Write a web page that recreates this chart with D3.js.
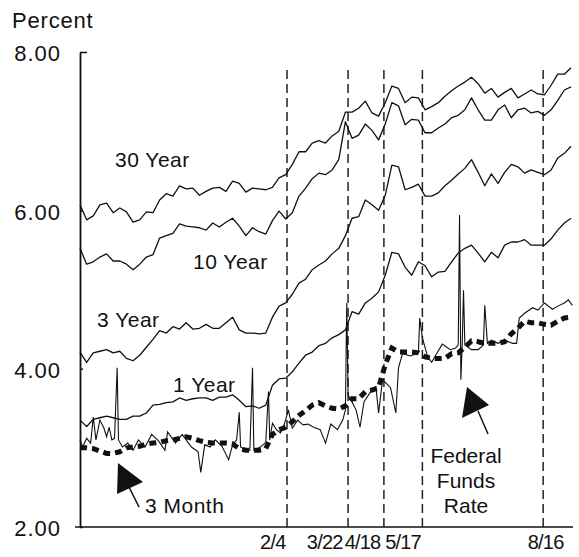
<!DOCTYPE html>
<html>
<head>
<meta charset="utf-8">
<script src="https://cdn.jsdelivr.net/npm/d3@7"></script>
<style>
  body { margin: 0; background: #fff; }
  svg text { font-family: "Liberation Sans", Arial, Helvetica, sans-serif; fill: #111; }
</style>
</head>
<body>
<div id="chart"></div>
<script>
// Treasury yields, Sept 1993 - Sept 1994, one reading every 5 days
const startDate = new Date(1993, 8, 1);
const stepDays = 5;

const year30 = [
  6.07, 5.88, 5.93, 6.07, 6.09, 5.97, 6.03, 5.98, 5.85, 5.88,
  5.98, 5.97, 6.13, 6.21, 6.18, 6.31, 6.27, 6.28, 6.19, 6.24,
  6.28, 6.29, 6.24, 6.37, 6.34, 6.23, 6.28, 6.27, 6.26, 6.29,
  6.41, 6.45, 6.58, 6.74, 6.74, 6.85, 6.88, 6.85, 6.94, 7.00,
  7.24, 7.24, 7.29, 7.38, 7.23, 7.19, 7.36, 7.57, 7.54, 7.36,
  7.43, 7.42, 7.27, 7.31, 7.36, 7.44, 7.51, 7.57, 7.62, 7.68,
  7.60, 7.48, 7.54, 7.43, 7.49, 7.54, 7.42, 7.47, 7.52, 7.47,
  7.46, 7.58, 7.72, 7.72, 7.80
];
const year10 = [
  5.52, 5.32, 5.35, 5.41, 5.45, 5.36, 5.36, 5.32, 5.25, 5.32,
  5.41, 5.44, 5.65, 5.68, 5.71, 5.83, 5.80, 5.79, 5.78, 5.75,
  5.84, 5.79, 5.85, 5.90, 5.80, 5.68, 5.78, 5.73, 5.70, 5.87,
  5.99, 5.89, 5.97, 6.18, 6.28, 6.40, 6.47, 6.45, 6.51, 6.64,
  7.12, 6.91, 6.95, 7.09, 7.01, 6.89, 7.09, 7.36, 7.32, 7.08,
  7.15, 7.14, 6.98, 6.98, 7.04, 7.09, 7.17, 7.20, 7.27, 7.42,
  7.27, 7.14, 7.14, 7.27, 7.33, 7.17, 7.27, 7.29, 7.23, 7.25,
  7.20, 7.27, 7.39, 7.52, 7.56
];
const year3 = [
  4.21, 4.08, 4.20, 4.22, 4.24, 4.20, 4.22, 4.13, 4.10, 4.17,
  4.27, 4.37, 4.48, 4.45, 4.53, 4.50, 4.58, 4.50, 4.51, 4.56,
  4.51, 4.51, 4.58, 4.65, 4.49, 4.45, 4.45, 4.44, 4.45, 4.65,
  4.79, 4.83, 4.94, 5.08, 5.13, 5.25, 5.31, 5.36, 5.45, 5.52,
  5.68, 5.90, 5.92, 6.13, 6.07, 6.00, 6.19, 6.57, 6.55, 6.26,
  6.29, 6.33, 6.18, 6.18, 6.22, 6.31, 6.38, 6.46, 6.53, 6.64,
  6.48, 6.31, 6.46, 6.34, 6.48, 6.58, 6.55, 6.47, 6.51, 6.48,
  6.45, 6.51, 6.66, 6.72, 6.81
];
const year1 = [
  3.35, 3.27, 3.36, 3.38, 3.40, 3.38, 3.36, 3.36, 3.40, 3.40,
  3.44, 3.54, 3.55, 3.57, 3.58, 3.63, 3.60, 3.62, 3.63, 3.63,
  3.60, 3.64, 3.64, 3.67, 3.60, 3.52, 3.53, 3.50, 3.54, 3.79,
  3.87, 3.88, 3.96, 4.07, 4.17, 4.21, 4.29, 4.32, 4.39, 4.43,
  4.49, 4.72, 4.69, 4.83, 4.89, 4.97, 5.18, 5.47, 5.45, 5.28,
  5.18, 5.35, 5.30, 5.16, 5.22, 5.23, 5.35, 5.46, 5.52, 5.56,
  5.46, 5.35, 5.47, 5.40, 5.56, 5.60, 5.60, 5.63, 5.56, 5.56,
  5.56, 5.64, 5.75, 5.84, 5.90
];
const month3 = [
  3.00, 3.00, 2.99, 2.96, 2.93, 2.93, 2.95, 3.00, 3.01, 3.02,
  3.05, 3.06, 3.07, 3.09, 3.10, 3.12, 3.14, 3.12, 3.09, 3.07,
  3.06, 3.06, 3.06, 3.05, 2.99, 2.97, 2.97, 2.97, 2.99, 3.17,
  3.23, 3.26, 3.33, 3.41, 3.47, 3.54, 3.57, 3.53, 3.50, 3.49,
  3.53, 3.62, 3.62, 3.71, 3.73, 3.76, 4.05, 4.26, 4.21, 4.21,
  4.21, 4.20, 4.15, 4.13, 4.13, 4.13, 4.19, 4.20, 4.27, 4.35,
  4.34, 4.32, 4.32, 4.32, 4.34, 4.44, 4.51, 4.60, 4.58, 4.58,
  4.56, 4.55, 4.60, 4.64, 4.65
];

// Federal funds rate: irregular days (from start date) so the spikes stay sharp
const fedDays = [
  0, 2, 5, 8, 10, 12, 15, 18, 20, 22,
  24, 26, 28, 29, 32, 36, 40, 44, 49, 54,
  59, 64, 66, 72, 77, 80, 84, 89, 91, 94,
  98, 102, 107, 112, 115, 118, 120, 121, 125, 128,
  130, 131, 136, 140, 142, 143, 145, 148, 151, 154,
  157, 160, 164, 168, 172, 176, 181, 185, 189, 194,
  198, 200, 201, 202, 205, 208, 211, 214, 219, 223,
  225, 228, 231, 234, 238, 240, 243, 249, 254, 255,
  256, 258, 262, 265, 268, 273, 279, 283, 285, 286,
  287, 288, 289, 290, 295, 300, 304, 305, 307, 310,
  315, 320, 326, 329, 331, 335, 341, 345, 350, 356,
  360, 365, 368, 371
];
const fedRate = [
  3.10, 3.01, 3.12, 3.06, 3.39, 3.10, 3.35, 3.25, 3.14, 3.26,
  3.10, 3.12, 4.01, 3.10, 3.01, 3.06, 2.97, 3.10, 3.01, 3.17,
  3.09, 2.97, 3.20, 3.06, 3.17, 3.10, 3.01, 2.95, 2.69, 3.04,
  3.01, 3.10, 3.02, 2.85, 3.04, 3.10, 3.45, 3.01, 2.97, 2.97,
  4.01, 2.97, 3.01, 3.07, 3.71, 3.10, 3.31, 3.23, 3.19, 3.30,
  3.48, 3.25, 3.35, 3.29, 3.30, 3.26, 3.23, 3.06, 3.30, 3.23,
  3.35, 3.48, 4.83, 3.67, 3.58, 3.48, 3.26, 3.58, 3.71, 3.77,
  3.44, 3.86, 3.81, 3.76, 3.44, 4.01, 4.19, 4.16, 4.19, 4.20,
  4.64, 4.39, 4.15, 4.08, 4.17, 4.31, 4.24, 4.26, 4.30, 5.94,
  3.86, 4.30, 4.99, 4.30, 4.24, 4.24, 4.30, 4.80, 4.32, 4.36,
  4.32, 4.36, 4.32, 4.32, 4.64, 4.70, 4.77, 4.74, 4.83, 4.75,
  4.79, 4.83, 4.87, 4.80
];

// FOMC tightening dates
const policyDates = ["1994-02-04", "1994-03-22", "1994-04-18", "1994-05-17", "1994-08-16"];
const yTicks = [2, 4, 6, 8];

function drawChart() {
    const width = 579, height = 557;
    const svg = d3.select("#chart").append("svg")
        .attr("width", width)
        .attr("height", height);

    const x = d3.scaleTime()
        .domain([startDate, new Date(1994, 8, 9)])
        .range([80, 575]);
    const y = d3.scaleLinear()
        .domain([2, 8])
        .range([527, 52]);

    const parse = d3.timeParse("%Y-%m-%d");
    const events = policyDates.map(parse);

    // Policy dashed lines
    svg.selectAll(".policy")
        .data(events)
        .enter()
        .append("line")
        .attr("class", "policy")
        .attr("x1", d => x(d))
        .attr("x2", d => x(d))
        .attr("y1", y(2))
        .attr("y2", y(7.82))
        .attr("stroke", "#222")
        .attr("stroke-width", 1.5)
        .attr("stroke-dasharray", "9,5");

    // Y axis
    const yAxis = d3.axisLeft(y)
        .tickValues(yTicks)
        .tickFormat(d3.format(".2f"))
        .tickSizeInner(7)
        .tickSizeOuter(0)
        .tickPadding(12);

    const gy = svg.append("g")
        .attr("transform", "translate(80,0)")
        .call(yAxis);
    gy.select(".domain").attr("stroke", "#111").attr("stroke-width", 1.8);
    gy.selectAll(".tick line")
        .attr("stroke", "#111")
        .attr("stroke-width", 1.5)
        .attr("x2", d => d === 8 ? 7 : 3);
    gy.selectAll(".tick text")
        .attr("font-size", 22)
        .attr("letter-spacing", "1px")
        .attr("dy", "0.4em")
        .style("fill", "#111");

    // X axis - labels sit just left of their dashed line, last one centred
    const labelShift = [-2, -6, -4, -2, 2];
    const xAxis = d3.axisBottom(x)
        .tickValues(events)
        .tickFormat(d3.timeFormat("%-m/%-d"))
        .tickSize(0)
        .tickPadding(8);

    const gx = svg.append("g")
        .attr("transform", `translate(0,${y(2)})`)
        .call(xAxis);
    gx.select(".domain").remove();
    gx.selectAll(".tick text")
        .attr("font-size", 20)
        .attr("letter-spacing", "-0.8px")
        .attr("dy", "0.72em")
        .attr("text-anchor", (d, i) => i === events.length - 1 ? "middle" : "end")
        .attr("x", (d, i) => labelShift[i])
        .style("fill", "#111");

    svg.append("line")
        .attr("x1", 75)
        .attr("x2", 573)
        .attr("y1", y(2))
        .attr("y2", y(2))
        .attr("stroke", "#111")
        .attr("stroke-width", 1.6);

    // Yield lines
    const line = d3.line()
        .x((d, i) => x(d3.timeDay.offset(startDate, i * stepDays)))
        .y(d => y(d));

    [year30, year10, year3, year1].forEach(series => {
        svg.append("path")
            .datum(series)
            .attr("d", line)
            .attr("fill", "none")
            .attr("stroke", "#111")
            .attr("stroke-width", 1.3)
            .attr("stroke-linejoin", "round");
    });

    // Federal funds (thin, spiky)
    const fedLine = d3.line()
        .x(d => x(d3.timeDay.offset(startDate, d[0])))
        .y(d => y(d[1]));

    svg.append("path")
        .datum(fedDays.map((d, i) => [d, fedRate[i]]))
        .attr("d", fedLine)
        .attr("fill", "none")
        .attr("stroke", "#111")
        .attr("stroke-width", 1.1);

    // 3 month bill (heavy dotted)
    svg.append("path")
        .datum(month3)
        .attr("d", line)
        .attr("fill", "none")
        .attr("stroke", "#111")
        .attr("stroke-width", 5)
        .attr("stroke-dasharray", "7,5");

    // Labels
    svg.append("text")
        .attr("x", 12)
        .attr("y", 28)
        .attr("font-size", 22)
        .attr("letter-spacing", "0.8px")
        .text("Percent");

    const labels = [
        { text: "30 Year", x: 115, y: 167 },
        { text: "10 Year", x: 193, y: 269 },
        { text: "3 Year", x: 97, y: 327 },
        { text: "1 Year", x: 173, y: 392 },
        { text: "3 Month", x: 145, y: 513 }
    ];
    svg.selectAll(".series-label")
        .data(labels)
        .enter()
        .append("text")
        .attr("class", "series-label")
        .attr("x", d => d.x)
        .attr("y", d => d.y)
        .attr("font-size", 21)
        .attr("letter-spacing", "0.5px")
        .text(d => d.text);

    svg.selectAll(".ff-label")
        .data(["Federal", "Funds", "Rate"])
        .enter()
        .append("text")
        .attr("class", "ff-label")
        .attr("x", 466)
        .attr("y", (d, i) => 463 + i * 25)
        .attr("text-anchor", "middle")
        .attr("font-size", 21)
        .text(d => d);

    // Arrows
    const arrows = [
        { head: [[118, 463], [117, 494], [143, 482]], tail: [[129, 487], [139, 507]] },
        { head: [[467, 387], [462, 418], [489, 405]], tail: [[478, 411], [488, 434]] }
    ];
    arrows.forEach(a => {
        svg.append("path")
            .attr("d", "M" + a.head.join("L") + "Z")
            .attr("fill", "#111");
        svg.append("line")
            .attr("x1", a.tail[0][0]).attr("y1", a.tail[0][1])
            .attr("x2", a.tail[1][0]).attr("y2", a.tail[1][1])
            .attr("stroke", "#111")
            .attr("stroke-width", 1.5);
    });
}

drawChart();
</script>
</body>
</html>
